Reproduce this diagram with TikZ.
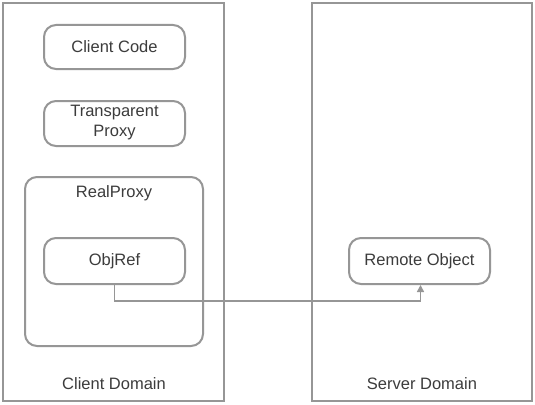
\documentclass[tikz,border=0pt]{standalone}
\usepackage{fontspec}
\setmainfont{Liberation Sans}
\usetikzlibrary{arrows.meta}
\definecolor{edge}{RGB}{150,150,150}
\definecolor{txt}{RGB}{60,60,60}
\tikzset{
  domainbox/.style={draw=edge, line width=2pt},
  rbox/.style={draw=edge, line width=2pt, rounded corners=12pt},
  lbl/.style={text=txt, font=\fontsize{16.5}{20}\selectfont, align=center, inner sep=0pt},
  conn/.style={draw=edge, line width=1.5pt, -{Triangle[length=7pt,width=7pt]}}
}
\begin{document}
\begin{tikzpicture}[x=1pt,y=-1pt]
\useasboundingbox (0,0) rectangle (535,404);
\fill[white] (0,0) rectangle (535,404);
\draw[domainbox] (3,3) rectangle (224,401);
\draw[domainbox] (312,3) rectangle (532,401);
\node[lbl] (cdl) at (114,384) {Client Domain};
\node[lbl] (sdl) at (422,384) {Server Domain};
\draw[rbox] (44,25) rectangle (185,69);
\node[lbl] (cc) at (114.5,47) {Client Code};
\draw[rbox] (44,101) rectangle (185,146);
\node[lbl] (tp) at (114.5,123) {Transparent\\Proxy};
\draw[rbox] (25,177) rectangle (203,346);
\node[lbl] (rp) at (114,193) {RealProxy};
\node[rbox, minimum width=141pt, minimum height=46pt, inner sep=0pt] (obj) at (114.5,261) {};
\node[lbl] at (obj) {ObjRef};
\node[rbox, minimum width=141pt, minimum height=46pt, inner sep=0pt] (ro) at (419.5,261) {};
\node[lbl] at (ro) {Remote Object};
\draw[conn] (obj.south) -- ++(0,16) -| ([xshift=1pt]ro.south);
\end{tikzpicture}
\end{document}
